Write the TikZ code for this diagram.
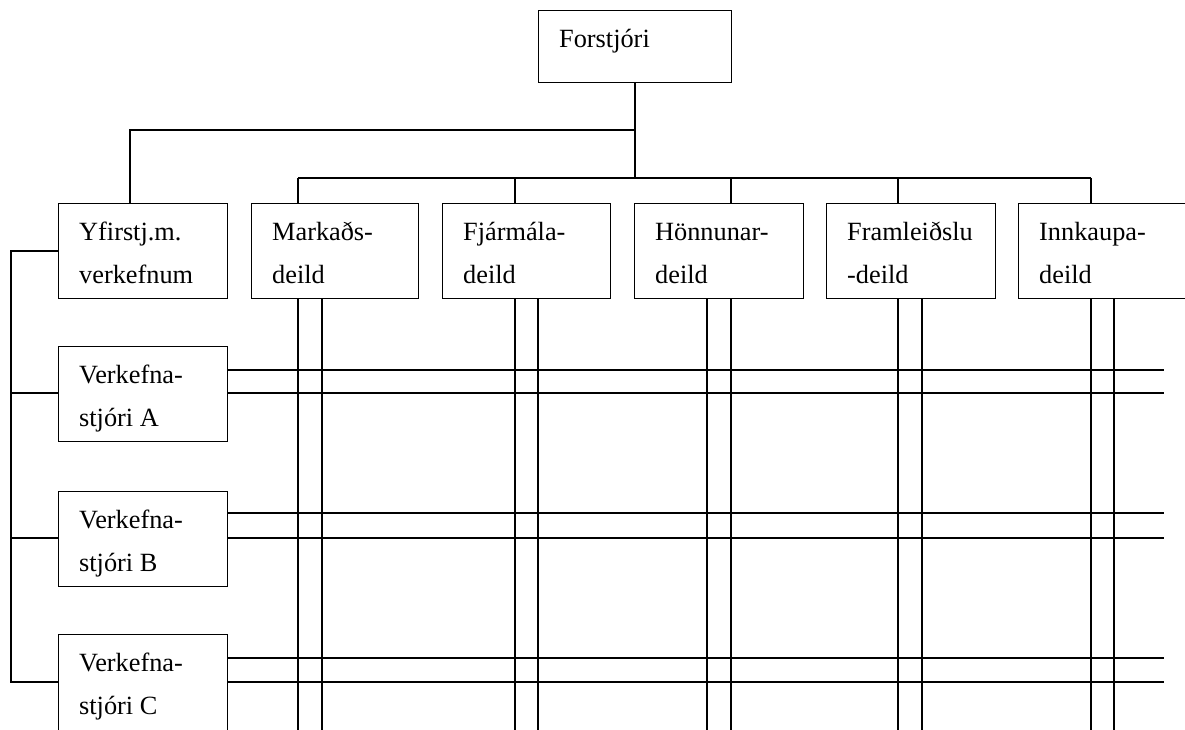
\documentclass[tikz,border=0pt]{standalone}
\usepackage{fontspec}
\setmainfont{Liberation Serif}
\usetikzlibrary{calc}
\tikzset{
  unitbox/.style={draw, line width=1.4pt, minimum width=#1, minimum height=95pt, inner sep=0pt, anchor=north west},
  unitbox/.default=169pt,
  txt/.style={anchor=base west, inner sep=0pt, font=\fontsize{26.3pt}{30pt}\selectfont},
  link/.style={line width=1.4pt},
}
% two text lines inside a box: 21pt in from the left, baselines 37pt and 80pt below the top
\newcommand\boxtext[3]{%
  \node[txt] (#1-l1) at ($(#1.north west)+(21,37)$) {#2};
  \node[txt] (#1-l2) at ($(#1.north west)+(21,80)$) {#3};}
\begin{document}
\begin{tikzpicture}[x=1pt,y=-1pt]
\useasboundingbox (0,0) rectangle (1185,729);
\clip (0,0) rectangle (1185,729);

% director
\node[unitbox=193pt, minimum height=72pt] (dir) at (538,10) {};
\node[txt] (dir-l1) at ($(dir.north west)+(21,37)$) {Forstjóri};

% project director and departments
\node[unitbox] (yf)  at (58,203) {};
\node[unitbox=167pt] (mk)  at (251,203) {};
\node[unitbox=168pt] (fj)  at (442,203) {};
\node[unitbox] (hn)  at (634,203) {};
\node[unitbox] (fr)  at (826,203) {};
\node[unitbox=180pt] (ik)  at (1018,203) {};
\boxtext{yf}{Yfirstj.m.}{verkefnum}
\boxtext{mk}{Markaðs-}{deild}
\boxtext{fj}{Fjármála-}{deild}
\boxtext{hn}{Hönnunar-}{deild}
\boxtext{fr}{Framleiðslu}{-deild}
\boxtext{ik}{Innkaupa-}{deild}

% project managers (the last one runs past the lower edge)
\node[unitbox] (pa) at (58,346) {};
\node[unitbox] (pb) at (58,491) {};
\node[unitbox, minimum height=110pt] (pc) at (58,634) {};
\boxtext{pa}{Verkefna-}{stjóri A}
\boxtext{pb}{Verkefna-}{stjóri B}
\boxtext{pc}{Verkefna-}{stjóri C}

% hierarchy lines
\coordinate (hub) at (635,178);
\coordinate (mid) at (635,130);
\draw[link] (dir.south -| hub) -- (hub);
\draw[link] (mid) -| (yf.north -| 130,0);
\draw[link] (298,178) -- (1091,178);
\foreach \b/\x in {mk/298, fj/515, hn/731, fr/898, ik/1091}
  \draw[link] (\x,178) -- (\b.north -| \x,0);

% left bus to the project managers
\coordinate (lt) at (11,251);
\draw[link] (yf.west |- lt) -- (lt) -- (11,682) -- (pc.west |- 0,682);
\draw[link] (11,393) -- (pa.west |- 0,393);
\draw[link] (11,538) -- (pb.west |- 0,538);

% matrix: double vertical lines from the departments
\foreach \b/\x in {mk/298, mk/322, fj/515, fj/538, hn/707, hn/731, fr/898, fr/922, ik/1091, ik/1114}
  \draw[link] (\b.south -| \x,0) -- (\x,740);

% matrix: double horizontal lines from the project managers
\foreach \p/\y in {pa/370, pa/393, pb/513, pb/538, pc/658, pc/682}
  \draw[link] (\p.east |- 0,\y) -- (1164,\y);
\end{tikzpicture}
\end{document}
